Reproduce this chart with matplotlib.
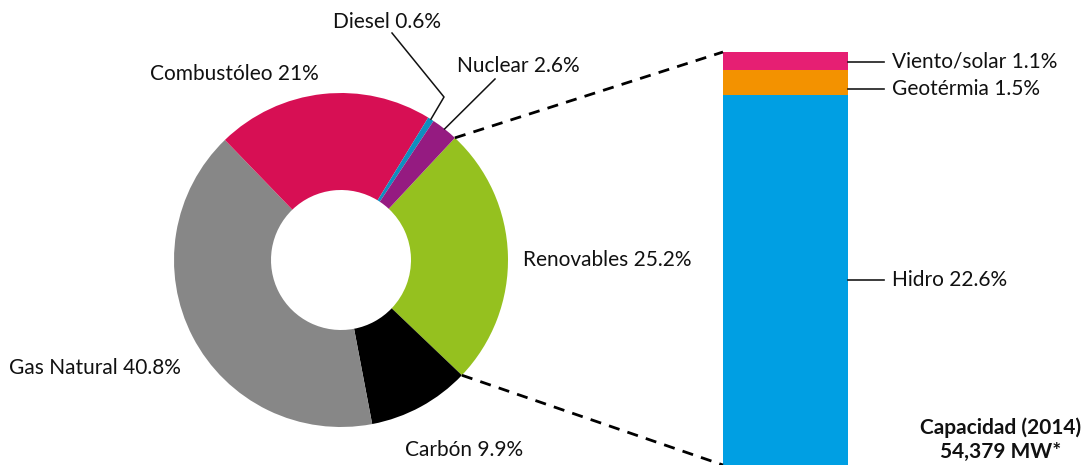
import numpy as np
import matplotlib
import matplotlib.pyplot as plt

matplotlib.use("Agg")

# data
fuentes = ["Renovables", "Carbón", "Gas Natural", "Combustóleo", "Diesel", "Nuclear"]
pct_fuentes = [25.2, 9.9, 40.8, 21, 0.6, 2.6]
etiquetas_pie = ["Renovables 25.2%", "Carbón 9.9%", "Gas Natural 40.8%",
                 "Combustóleo 21%", "Diesel 0.6%", "Nuclear 2.6%"]
renovables = ["Hidro", "Geotérmia", "Viento/solar"]
pct_renovables = [22.6, 1.5, 1.1]
etiquetas_bar = ["Hidro 22.6%", "Geotérmia 1.5%", "Viento/solar 1.1%"]
titulo = "Capacidad (2014)\n54,379 MW*"

colores_pie = ["#95C11F", "#000000", "#878787", "#D70F54", "#0E8FBF", "#951B81"]
colores_bar = ["#009FE3", "#F39200", "#E61F73"]

plt.rcParams["font.family"] = ["Lato", "DejaVu Sans"]
FS = 15

W, H = 1083, 465
fig = plt.figure(figsize=(W / 100, H / 100), dpi=100)
ax = fig.add_axes([0, 0, 1, 1])

# donut
cx, cy, R = 341, 465 - 260, 167
start = 47
wedges, _ = ax.pie(pct_fuentes, colors=colores_pie, startangle=start, counterclock=False,
                   center=(cx, cy), radius=R, wedgeprops=dict(width=R - 70, linewidth=0),
                   normalize=True, frame=True)
ax.set_xlim(0, W)
ax.set_ylim(0, H)
ax.set_aspect("equal")
ax.axis("off")

def punto(ang, r=R):
    a = np.deg2rad(ang)
    return cx + r * np.cos(a), cy + r * np.sin(a)

# stacked bar of renovables
bx0, bx1 = 723, 848
escala = 413 / sum(pct_renovables)
bottom = 0
for v, c, lab in zip(pct_renovables, colores_bar, etiquetas_bar):
    ax.bar((bx0 + bx1) / 2, v * escala, width=bx1 - bx0, bottom=bottom, color=c, linewidth=0)
    ym = bottom + v * escala / 2
    if lab.startswith("Viento"):
        ym = 465 - 62
    elif lab.startswith("Geo"):
        ym = 465 - 89
    ax.plot([bx1, 884], [ym, ym], color="#1a1a1a", lw=1.2)
    ax.text(892, ym, lab, fontsize=FS, va="center", ha="left", color="#111111")
    bottom += v * escala
top_bar = bottom

# dashed connectors between renovables wedge and bar
ang_ini = start
ang_fin = start - pct_fuentes[0] / sum(pct_fuentes) * 360
p1 = punto(ang_ini)
p2 = punto(ang_fin)
ax.plot([p1[0], bx0], [p1[1], top_bar], ls=(0, (4, 3)), color="black", lw=2)
ax.plot([p2[0], bx0], [p2[1], 0], ls=(0, (4, 3)), color="black", lw=2)

# wedge labels
acum = np.cumsum([0] + pct_fuentes) / sum(pct_fuentes) * 360
mid = [start - (acum[i] + acum[i + 1]) / 2 for i in range(len(pct_fuentes))]

ax.text(523, 465 - 260, etiquetas_pie[0], fontsize=FS, va="center", ha="left", color="#111111")
ax.text(405, 465 - 450, etiquetas_pie[1], fontsize=FS, va="center", ha="left", color="#111111")
ax.text(9, 465 - 368, etiquetas_pie[2], fontsize=FS, va="center", ha="left", color="#111111")
ax.text(150, 465 - 74, etiquetas_pie[3], fontsize=FS, va="center", ha="left", color="#111111")
ax.text(333, 465 - 22, etiquetas_pie[4], fontsize=FS, va="center", ha="left", color="#111111")
ax.text(457, 465 - 66, etiquetas_pie[5], fontsize=FS, va="center", ha="left", color="#111111")

# leader lines for small slices
pd_ = punto(mid[4])
ax.plot([392, 444, pd_[0]], [465 - 33, 465 - 97, pd_[1]], color="#111111", lw=1.1)
pn = punto(mid[5])
ax.plot([495, pn[0]], [465 - 79, pn[1]], color="#111111", lw=1.1)

ax.text(1001, 465 - 440, titulo, fontsize=FS, fontweight="bold", va="center", ha="center",
        linespacing=1.25, color="#111111")

fig.savefig("out.png", dpi=100)
